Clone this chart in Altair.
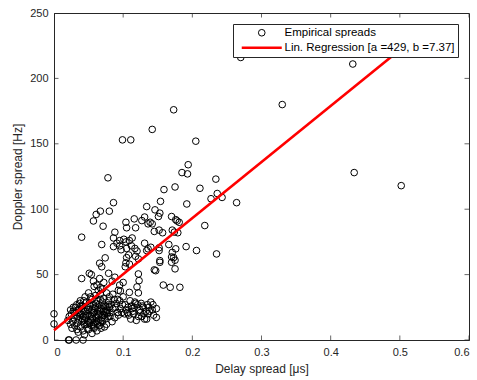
import altair as alt
import pandas as pd

# Empirical spreads
delay_spread_us = [
    0.270, 0.330, 0.432, 0.434, 0.502, 0.173, 0.142, 0.099, 0.111, 0.205,
    0.194, 0.185, 0.193, 0.078, 0.234, 0.211, 0.175, 0.159, 0.236, 0.227,
    0.243, 0.264, 0.192, 0.154, 0.134, 0.146, 0.153, 0.151, 0.086, 0.080,
    0.067, 0.061, 0.057, 0.071, 0.104, 0.116, 0.127, 0.136, 0.139, 0.142,
    0.131, 0.170, 0.178, 0.181, 0.176, 0.105, 0.118, 0.145, 0.152, 0.157,
    0.171, 0.174, 0.179, 0.218, 0.088, 0.086, 0.091, 0.086, 0.040, 0.069,
    0.074, 0.066, 0.131, 0.136, 0.140, 0.152, 0.152, 0.166, 0.176, 0.171,
    0.173, 0.175, 0.170, 0.191, 0.206, 0.235, 0.153, 0.134, 0.153, 0.147,
    0.170, 0.175, 0.158, 0.168, 0.182, 0.142, 0.148, 0.134,
    0.095, 0.101, 0.104, 0.109, 0.113, 0.112, 0.117, 0.120, 0.095, 0.097,
    0.105, 0.108, 0.105, 0.104, 0.103, 0.109, 0.118, 0.122, 0.079, 0.069,
    0.051, 0.054, 0.040, 0.057, 0.058, 0.066, 0.067, 0.122, 0.123, 0.120,
    0.145, 0.093, 0.096, 0.109, 0.122, 0.110, 0.112, 0.084, 0.088, 0.100,
    0.095,
    0.103, 0.089, 0.096, 0.099, 0.104, 0.106, 0.113, 0.118, 0.121, 0.126,
    0.129, 0.125, 0.122, 0.119, 0.131, 0.143, 0.137, 0.140, 0.133, 0.136,
    0.081, 0.108, 0.115, 0.127, 0.111, 0.116, 0.148, 0.092,
    0.000, 0.000, 0.021, 0.022, 0.032, 0.042,
    0.020, 0.022, 0.024, 0.025, 0.026, 0.027, 0.028, 0.029, 0.030, 0.031,
    0.032, 0.033, 0.034, 0.035, 0.036, 0.037, 0.038, 0.039, 0.040, 0.041,
    0.042, 0.043, 0.044, 0.045, 0.046, 0.047, 0.048, 0.049, 0.050, 0.051,
    0.052, 0.053, 0.054, 0.055, 0.056, 0.057, 0.058, 0.059, 0.060, 0.061,
    0.062, 0.063, 0.064, 0.065, 0.066, 0.067, 0.068, 0.069, 0.070, 0.071,
    0.072, 0.073, 0.075, 0.077, 0.079, 0.081, 0.083, 0.085, 0.087, 0.060,
    0.064, 0.055, 0.050, 0.045, 0.038, 0.033, 0.028, 0.024, 0.035, 0.042,
    0.050, 0.058, 0.044, 0.030, 0.040, 0.047, 0.052, 0.057, 0.062, 0.066,
    0.070, 0.074, 0.078, 0.080, 0.090, 0.092, 0.085, 0.076, 0.070, 0.062,
    0.072, 0.080, 0.095, 0.100, 0.098, 0.093, 0.088, 0.084, 0.076, 0.068,
    0.062, 0.055,
    0.036, 0.041, 0.046, 0.051, 0.056, 0.061, 0.066, 0.071, 0.076, 0.039,
    0.044, 0.049, 0.054, 0.059, 0.064, 0.069, 0.074, 0.079, 0.048, 0.053,
    0.058, 0.063, 0.068, 0.073, 0.034, 0.043, 0.061, 0.067, 0.072, 0.077,
    0.102, 0.107, 0.114, 0.124, 0.130, 0.138, 0.144, 0.117, 0.128, 0.135,
]
doppler_spread_hz = [
    216, 180, 211, 128, 118, 176, 161, 153, 153, 152,
    134, 128, 127, 124, 123, 116, 117, 115, 112, 108,
    109, 105, 104, 106, 102, 99.5, 97, 94.4, 105, 98.5,
    98.5, 96, 91, 87, 90, 92.6, 91.3, 88.8, 90, 88.8,
    94, 94.4, 91, 90, 92, 85.8, 85.8, 83, 84, 82,
    84, 82.5, 82, 87.5, 82.4, 78, 74, 71.4, 78.6, 73,
    62.8, 58.7, 74, 69.7, 70.9, 70.5, 68.4, 73, 69.7, 67,
    63, 61, 63.5, 71.4, 68.4, 65.8, 60.7, 68.4, 59.4, 53,
    59.4, 54.4, 42, 40.3, 40.3, 23, 17.3, 16,
    76, 77, 75, 76, 78, 72, 70, 68, 72, 69,
    70, 65, 63, 59, 56, 58, 64, 62, 51, 56,
    51, 50, 47, 45, 41, 47, 40, 50.5, 45.4, 40.6,
    53.6, 38, 37.5, 36.4, 36, 30, 26, 45, 48, 44,
    42,
    27, 25, 24, 27, 23, 21, 24, 28, 27, 28,
    25, 21, 18, 15, 16, 27, 25, 29, 22, 20,
    18, 19, 20, 18, 16, 25, 24, 21,
    20, 12.3, 0, 0, 0, 0,
    15, 18, 12, 20, 9, 14, 22, 17, 11, 25,
    19, 8, 13, 23, 16, 28, 10, 20, 14, 26,
    18, 30, 12, 22, 17, 25, 9, 20, 14, 28,
    19, 33, 11, 23, 16, 27, 21, 13, 25, 18,
    30, 22, 15, 27, 20, 35, 24, 17, 29, 22,
    32, 19, 26, 23, 30, 21, 27, 24, 31, 34,
    38, 31, 36, 33, 30, 27, 25, 23, 6, 7,
    8, 10, 4, 21, 24, 29, 26, 12, 14, 11,
    14, 16, 18, 25, 28, 31, 35, 36, 39, 42,
    44, 33, 30, 33, 21, 19, 17, 14, 12, 9,
    7, 5,
    21, 16, 19, 13, 21, 17, 23, 19, 21, 26,
    15, 23, 18, 24, 19, 26, 22, 27, 12, 15,
    9, 12, 15, 10, 18, 22, 28, 31, 26, 20,
    20, 25, 22, 23, 20, 22, 19, 29, 26, 27,
]

# Least-squares fit parameters shown in the legend
fit_a = 429
fit_b = 7.37
fit_x_range = [0.0, 0.502]

x_ticks = [0, 0.1, 0.2, 0.3, 0.4, 0.5, 0.6]
y_ticks = [0, 50, 100, 150, 200, 250]

label_pts = "Empirical spreads"
label_fit = "Lin. Regression [a =429, b =7.37]"

pts = pd.DataFrame({"delay": delay_spread_us, "doppler": doppler_spread_hz,
                    "series": label_pts})
fit = pd.DataFrame({"delay": fit_x_range,
                    "doppler": [fit_a * v + fit_b for v in fit_x_range],
                    "series": label_fit})

FONT = "Liberation Sans"
AX = "#262626"

xscale = alt.Scale(domain=[0, 0.6], nice=False, zero=False)
yscale = alt.Scale(domain=[0, 250], nice=False, zero=False)
color_scale = alt.Scale(domain=[label_pts, label_fit], range=["black", "#ff0000"])
shape_scale = alt.Scale(domain=[label_pts, label_fit], range=["circle", "stroke"])

legend = alt.Legend(
    title=None, orient="none", legendX=179, legendY=11,
    strokeColor=AX, fillColor="white", padding=3,
    labelFont=FONT, labelFontSize=11.5, labelColor="black", labelLimit=400,
    symbolSize=alt.ExprRef(expr="datum.label === 'Empirical spreads' ? 44 : 1600"),
    symbolStrokeWidth=alt.ExprRef(expr="datum.label === 'Empirical spreads' ? 1 : 2.6"),
    symbolOffset=20, rowPadding=2, labelOffset=17,
)

x_axis = alt.Axis(values=x_ticks, format=".1~f", title="Delay spread [\u03bcs]",
                  ticks=False, grid=False, labelPadding=6, titlePadding=6)
y_axis = alt.Axis(values=y_ticks, title="Doppler spread [Hz]",
                  ticks=False, grid=False, labelPadding=6, titlePadding=5)

points = alt.Chart(pts).mark_point(filled=False, size=44, strokeWidth=1, opacity=1).encode(
    x=alt.X("delay:Q", scale=xscale, axis=x_axis),
    y=alt.Y("doppler:Q", scale=yscale, axis=y_axis),
    color=alt.Color("series:N", scale=color_scale, legend=legend),
    shape=alt.Shape("series:N", scale=shape_scale, legend=legend),
)

line = alt.Chart(fit).mark_line(strokeWidth=2.6).encode(
    x="delay:Q",
    y="doppler:Q",
    color=alt.Color("series:N", scale=color_scale, legend=legend),
)

xt = pd.DataFrame({"v": x_ticks})
yt = pd.DataFrame({"v": y_ticks})
tick_bottom = alt.Chart(xt).mark_tick(orient="vertical", size=9, thickness=1, color=AX, clip=True).encode(
    x="v:Q", y=alt.datum(0))
tick_top = alt.Chart(xt).mark_tick(orient="vertical", size=9, thickness=1, color=AX, clip=True).encode(
    x="v:Q", y=alt.datum(250))
tick_left = alt.Chart(yt).mark_tick(orient="horizontal", size=9, thickness=1, color=AX, clip=True).encode(
    y="v:Q", x=alt.datum(0))
tick_right = alt.Chart(yt).mark_tick(orient="horizontal", size=9, thickness=1, color=AX, clip=True).encode(
    y="v:Q", x=alt.datum(0.6))

chart = alt.layer(points, line, tick_bottom, tick_top, tick_left, tick_right).resolve_scale(
    color="shared", shape="shared"
).properties(
    width=415, height=327,
    autosize=alt.AutoSizeParams(type="none"),
    padding={"left": 54, "top": 13, "right": 8, "bottom": 40},
    background="white",
).configure_view(
    stroke=AX, strokeWidth=1,
).configure_axis(
    domainColor=AX, domainWidth=1,
    labelFont=FONT, labelFontSize=11, labelColor=AX,
    titleFont=FONT, titleFontSize=12, titleColor=AX, titleFontWeight="normal",
)

chart.save("out.html", embed_options={"renderer": "svg", "actions": False})
